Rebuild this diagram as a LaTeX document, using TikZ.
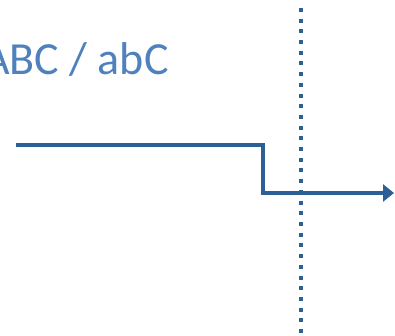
\documentclass[tikz,border=0pt]{standalone}
\usepackage{fontspec}
\setmainfont{Carlito}
\usetikzlibrary{arrows.meta}
\definecolor{labelblue}{RGB}{79,129,189}
\definecolor{wireblue}{RGB}{44,95,150}
\tikzset{
  label text/.style={text=labelblue, font=\fontsize{46}{52}\selectfont, inner sep=0pt},
  signal/.style={draw=wireblue, line width=3.5pt, line join=miter, -{Triangle[length=11pt,width=17pt]}},
  boundary/.style={draw=wireblue, line width=4pt, dash pattern=on 4pt off 6.7pt}
}
\begin{document}
\begin{tikzpicture}[x=1pt, y=-1pt]
  \useasboundingbox (0,0) rectangle (395,336);
  \begin{scope}
    \clip (0,0) rectangle (395,336);
    \node[label text, anchor=base west] (genotype) at (-17,75) {ABC / abC};
    \coordinate (start) at (16,145);
    \coordinate (step top) at (263,145);
    \coordinate (step bottom) at (263,193);
    \coordinate (end) at (394,193);
    \draw[signal] (start) -- (step top) -- (step bottom) -- (end);
    \coordinate (wall top) at (301,8);
    \coordinate (wall bottom) at (301,340);
    \draw[boundary] (wall top) -- (wall bottom);
  \end{scope}
\end{tikzpicture}
\end{document}
